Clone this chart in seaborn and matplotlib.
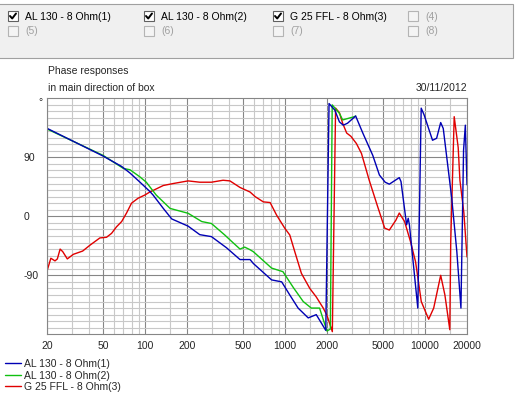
import matplotlib
matplotlib.use("Agg")
import matplotlib.pyplot as plt
from matplotlib.patches import Rectangle
from matplotlib.ticker import NullFormatter
import seaborn as sns

# --- data (frequency in Hz, phase in degrees) ---
freq_1 = [20, 50, 68, 78, 92, 108, 114, 135, 155, 203, 246, 298, 382, 477, 563,
          594, 802, 947, 1082, 1241, 1466, 1673, 1957, 2065, 2270, 2450, 2610,
          2800, 3200, 3600, 4240, 4730, 5200, 5570, 6560, 6750, 7400, 7600, 7750,
          8900, 9150, 9410, 9860, 11340, 12130, 12970, 13530, 15550, 16920,
          18100, 18900, 19460, 20000]
phase_1 = [134, 92, 76, 66, 52, 38, 32.5, 12, -4, -15, -28, -31, -48, -66, -66,
           -72, -97, -100, -120, -140, -155, -150, -174, 172, 162, 144, 139,
           142, 153, 127, 93, 63, 52, 49, 59, 53, -13, -3, -13,
           -140, 10, 165, 155, 116, 119, 143, 134, 28, -54,
           -140, 101, 139, 48]

freq_2 = [20, 50, 70, 78, 92, 102, 120, 151, 203, 254, 298, 371, 414, 477, 515,
          563, 594, 802, 967, 1150, 1350, 1541, 1767, 1900, 1995, 2110, 2175,
          2450, 2583, 3135, 3200]
phase_2 = [133, 93, 73, 71, 60, 52, 32.5, 12, 4.6, -8, -11, -28.5, -38, -50, -47,
           -51, -54, -79, -84.5, -109, -130, -140, -140, -161, -175, -172, 170,
           157, 147, 152, 153]

freq_3 = [20, 21.2, 22.7, 23.6, 24.7, 25.8, 27.8, 30.7, 35.8, 40.4, 47.5, 53,
          57.6, 62.5, 68, 73.7, 80, 89, 99.7, 108, 135, 159, 203, 246, 298, 361,
          404, 477, 563, 612, 700, 783, 870, 995, 1082, 1175, 1310, 1504, 1673,
          1877, 1995, 2180, 2300, 2450, 2583, 2760, 2960, 3240, 3520, 4000, 4560,
          5160, 5570, 6200, 6560, 7160, 7900, 8570, 9000, 9420, 10640, 11560,
          12970, 13900, 15070, 15300, 16200, 17300, 17800, 19000, 20000]
phase_3 = [-82, -64, -68, -65, -50, -54, -65, -58, -53, -44, -33, -32,
           -26, -16, -8, 5, 20, 27.5, 32.5, 37, 47, 50, 54, 52, 52, 55,
           54, 44, 37, 30, 22, 21, 2, -18, -28.5, -54, -87, -110, -123,
           -140, -151, -176, 165, 158, 142, 127, 122, 111, 96, 55, 17,
           -18, -21, -6, 5, -8, -39, -69, -100, -130, -157, -140,
           -90, -120, -173, -39, 152, 105, 55, 5, -62]

labels = ["AL 130 - 8 Ohm(1)", "AL 130 - 8 Ohm(2)", "G 25 FFL - 8 Ohm(3)"]
colors = ["#0000b4", "#10c010", "#e00000"]

x_major = [20, 50, 100, 200, 500, 1000, 2000, 5000, 10000, 20000]
x_minor = [30, 40, 60, 70, 80, 90, 150, 300, 400, 600, 700, 800, 900, 1500,
           3000, 4000, 6000, 7000, 8000, 9000, 15000]
y_major = [-90, 0, 90]
y_minor = [-170, -160, -150, -140, -130, -120, -110, -100, -80, -70, -60, -50,
           -40, -30, -20, -10, 10, 20, 30, 40, 50, 60, 70, 80, 100, 110, 120,
           130, 140, 150, 160, 170]

slot_names = [labels[0], labels[1], labels[2], "(4)", "(5)", "(6)", "(7)", "(8)"]
slot_used = [True, True, True, False, False, False, False, False]

sns.set_style("white")
plt.rcParams['font.family'] = ['Liberation Sans', 'DejaVu Sans']
plt.rcParams['font.size'] = 7.5

W, H = 515, 393
fig = plt.figure(figsize=(W / 100, H / 100), dpi=100)

# overlay in pixel coords for the checkbox panel and captions
ov = fig.add_axes([0, 0, 1, 1])
ov.set_xlim(0, W)
ov.set_ylim(H, 0)
ov.axis('off')

ov.add_patch(Rectangle((-2, 4), 515, 54, facecolor='#f0f0f0', edgecolor='#a0a0a0', lw=0.8))
box_x = [8, 144, 273, 408]
row_y = [11, 26]
for i, (name, used) in enumerate(zip(slot_names, slot_used)):
    bx = box_x[i % 4]
    by = row_y[i // 4]
    if used:
        ov.add_patch(Rectangle((bx, by), 10, 10, facecolor='white', edgecolor='#606060', lw=0.8))
        ov.plot([bx + 2, bx + 4.2, bx + 8], [by + 5, by + 7.5, by + 2.5], color='black', lw=1.4)
        ov.text(bx + 17, by + 5.5, name, va='center', ha='left', color='black')
    else:
        ov.add_patch(Rectangle((bx, by), 10, 10, facecolor='#f4f4f4', edgecolor='#b4b4b4', lw=0.8))
        ov.text(bx + 17, by + 5.5, name, va='center', ha='left', color='#a0a0a0')

ov.text(47.5, 71, "Phase responses", va='center', ha='left')
ov.text(47.5, 88, "in main direction of box", va='center', ha='left')
ov.text(467, 88, "30/11/2012", va='center', ha='right')
ov.text(40, 97, "°", va='top', ha='center')

# main chart
ax = fig.add_axes([47.3 / W, 1 - 334.3 / H, (467 - 47.3) / W, (334.3 - 98.3) / H])
for f, p, lab, c in reversed(list(zip([freq_1, freq_2, freq_3],
                                      [phase_1, phase_2, phase_3], labels, colors))):
    sns.lineplot(x=f, y=p, color=c, lw=1.0, label=lab, ax=ax, estimator=None, sort=False)

ax.set_xscale('log')
ax.set_xlim(20, 20000)
ax.set_ylim(-180, 180)
ax.set_xticks(x_major)
ax.set_xticklabels([str(v) for v in x_major])
ax.set_xticks(x_minor, minor=True)
ax.xaxis.set_minor_formatter(NullFormatter())
ax.set_yticks(y_major)
ax.set_yticklabels([str(v) for v in y_major], ha='left')
ax.set_yticks(y_minor, minor=True)
ax.grid(which='major', color='#868686', lw=0.8)
ax.grid(which='minor', color='#c8c8c8', lw=0.8)
ax.set_axisbelow(True)
for s in ax.spines.values():
    s.set_color('#868686')
    s.set_linewidth(0.8)
ax.tick_params(axis='both', which='major', length=3, width=0.8, color='#303030', labelsize=7.5)
ax.tick_params(axis='x', which='major', pad=2)
ax.tick_params(axis='y', which='major', pad=13.8)
ax.tick_params(axis='y', which='minor', length=0)
ax.tick_params(axis='x', which='minor', length=2.5, width=0.8, color='#c8c8c8')
ax.set_xlabel('')
ax.set_ylabel('')

h, l = ax.get_legend_handles_labels()
ax.legend(h[::-1], l[::-1], loc='upper left', bbox_to_anchor=(5 / W, 1 - 359 / H),
          bbox_transform=fig.transFigure, frameon=False, borderpad=0, borderaxespad=0,
          handlelength=1.5, handletextpad=0.35, labelspacing=0.15, fontsize=7.5)

fig.savefig("out.png", dpi=100)
